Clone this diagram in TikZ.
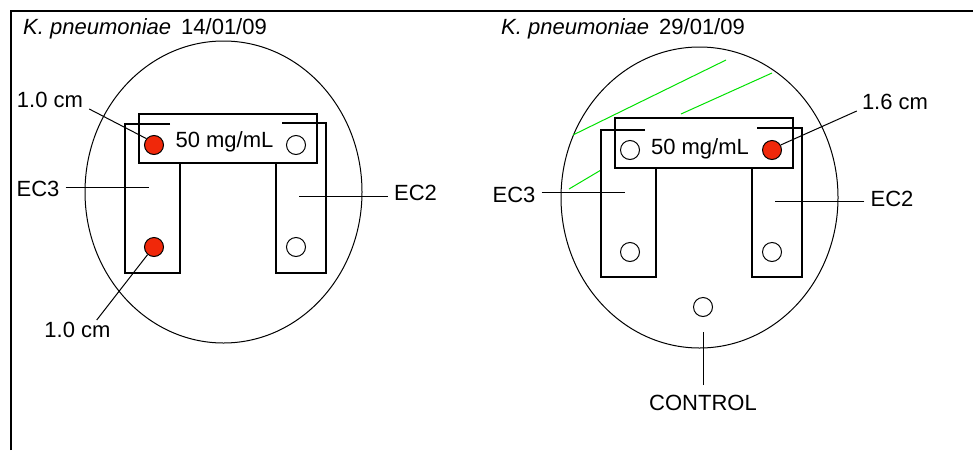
\documentclass[tikz,border=0pt]{standalone}
\usepackage{fontspec}
\setmainfont{Liberation Sans}
\definecolor{hitred}{RGB}{240,40,10}
\definecolor{growth}{RGB}{0,225,0}
\tikzset{
  plate/.style={line width=1pt},
  strip/.style={line width=1.5pt},
  leader/.style={line width=1pt},
  well/.style={circle,draw,line width=1pt,minimum size=19pt,inner sep=0pt,fill=white},
  hit/.style={well,fill=hitred},
  lbl/.style={inner sep=0pt,font=\fontsize{22}{26}\selectfont}
}
\begin{document}
\begin{tikzpicture}[
  x=1pt,y=-1pt,
  line cap=butt,
  line join=miter
]
  \useasboundingbox (0,0) rectangle (973,450);
  \fill[white] (0,0) rectangle (973,450);

  % Рамка
  \draw[line width=2pt] (11,450)--(11,11)--(973,11);

  % Чашка 14/01/09
  \draw[plate] (223.5,192) ellipse [x radius=138.5, y radius=151];
  \draw[strip] (139,114) rectangle (317,163);
  \draw[strip] (170,124)--(125,124)--(125,273)--(180,273)--(180,163);
  \draw[strip] (282,123)--(326,123)--(326,273)--(276,273)--(276,163);

  \node[hit]  (La) at (154,145) {};
  \node[well] (Lb) at (296,145) {};
  \node[hit]  (Lc) at (154,247) {};
  \node[well] (Ld) at (296,247) {};

  \node[lbl] (Lconc) at (224.5,142) {50 mg/mL};
  \node[lbl,anchor=base west] (Ltitle) at (23,34) {\textit{K. pneumoniae}\hspace{10pt}14/01/09};

  \node[lbl] (Ltop) at (50,100) {1.0 cm};
  \node[lbl] (Lbot) at (77.5,330) {1.0 cm};
  \node[lbl] (Lec3) at (38,189) {EC3};
  \node[lbl] (Lec2) at (415.5,193) {EC2};
  \coordinate (Lec3p) at (149,187);
  \coordinate (Lec2p) at (299,196);

  \draw[leader] ([xshift=6pt,yshift=-1pt]Ltop.south east) -- (La.140);
  \draw[leader] ([xshift=-14pt,yshift=2pt]Lbot.north east) -- (Lc.230);
  \draw[leader] ([xshift=6pt,yshift=2pt]Lec3.east) -- (Lec3p);
  \draw[leader] ([xshift=-6pt,yshift=-3pt]Lec2.west) -- (Lec2p);

  % Чашка 29/01/09
  \draw[plate] (699.5,197.5) ellipse [x radius=138.5, y radius=150.5];

  % Зона роста
  \draw[growth,line width=1pt] (573,135)--(726,60);
  \draw[growth,line width=1pt] (681,114)--(772,73);
  \draw[growth,line width=1pt] (569,189)--(601,170);

  \draw[strip] (615,118) rectangle (793,168);
  \draw[strip] (645,130)--(601,130)--(601,277)--(656,277)--(656,168);
  \draw[strip] (757,128)--(802,128)--(802,277)--(752,277)--(752,168);

  \node[well] (Ra) at (630,150) {};
  \node[hit]  (Rb) at (772,150) {};
  \node[well] (Rc) at (630,252) {};
  \node[well] (Rd) at (772,252) {};
  \node[well] (Re) at (703,307) {};

  \node[lbl] (Rconc) at (700,149) {50 mg/mL};
  \node[lbl,anchor=base west] (Rtitle) at (501,34) {\textit{K. pneumoniae}\hspace{10pt}29/01/09};

  \node[lbl] (Rtop) at (895,102) {1.6 cm};
  \node[lbl] (Rec3) at (514,195) {EC3};
  \node[lbl] (Rec2) at (892,199) {EC2};
  \node[lbl] (Rctl) at (703,403) {CONTROL};
  \coordinate (Rec3p) at (625,192);
  \coordinate (Rec2p) at (775,201);
  \coordinate (Rctlp) at (703,332);

  \draw[leader] ([xshift=-5pt,yshift=-1pt]Rtop.south west) -- (Rb.30);
  \draw[leader] ([xshift=6pt,yshift=3pt]Rec3.east) -- (Rec3p);
  \draw[leader] ([xshift=-6pt,yshift=-2pt]Rec2.west) -- (Rec2p);
  \draw[leader] ([yshift=10pt]Rctl.north) -- (Rctlp);
\end{tikzpicture}
\end{document}
